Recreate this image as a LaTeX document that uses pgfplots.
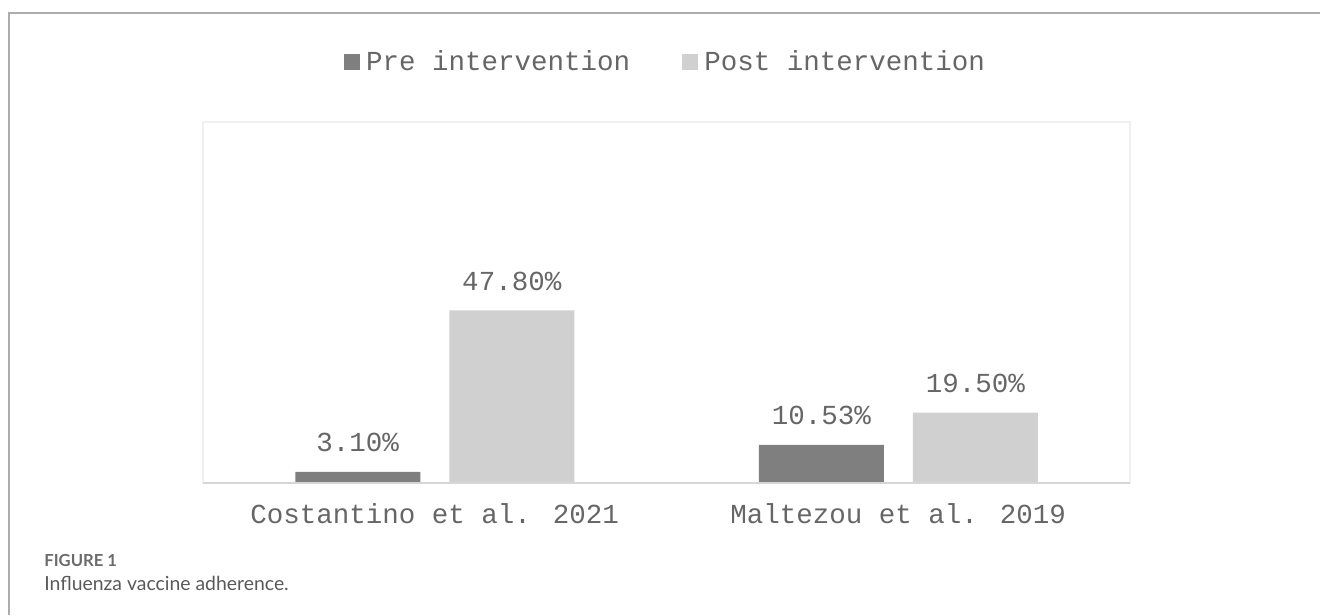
\documentclass[border=0pt]{standalone}
\usepackage{pgfplots}
\pgfplotsset{compat=1.18}
\usepackage{fontspec}
\setmainfont{Liberation Mono}
\newfontfamily\lato{Lato}
\definecolor{pre}{HTML}{7F7F7F}
\definecolor{post}{HTML}{D0D0D0}
\definecolor{txt}{HTML}{666666}
\begin{document}
\begin{tikzpicture}
\path[use as bounding box] (0,0) rectangle (660pt,307.5pt);
\draw[color=black!32, line width=0.6pt] (660pt,301pt) -- (4.5pt,301pt) -- (4.5pt,0pt);
\begin{axis}[
  at={(101.5pt,66pt)}, anchor=south west,
  scale only axis, width=463.5pt, height=180.5pt,
  ybar=14.5pt, bar width=62.5pt,
  xmin=-0.5, xmax=1.5, ymin=0, ymax=100,
  enlargelimits=false,
  xtick={0,1}, xticklabels={Costantino et al. 2021, Maltezou et al. 2019},
  ytick=\empty, major tick length=0pt,
  axis line style={draw=black!6, line width=0.8pt},
  xticklabel style={anchor=base, yshift=-20pt, font=\fontsize{13.75}{16}\selectfont, text=txt},
  nodes near coords={\pgfmathprintnumber[fixed,fixed zerofill,precision=2]{\pgfplotspointmeta}\%},
  nodes near coords style={anchor=base, inner sep=0pt, yshift=10pt, font=\fontsize{13.75}{16}\selectfont, text=txt, /pgf/number format/assume math mode=true},
  point meta=y,
  legend style={at={(axis description cs:0.5,1.166)}, anchor=center, draw=none, fill=none,
    legend columns=2, font=\fontsize{13.75}{16}\selectfont, text=txt,
    /tikz/every even column/.append style={column sep=24pt},
    legend cell align=left},
  legend image code/.code={\fill[#1] (0pt,-4pt) rectangle (8pt,4pt); \path (9pt,0pt);},
]
\addplot[fill=pre, draw=none] coordinates {(0,3.10) (1,10.53)};
\addplot[fill=post, draw=none] coordinates {(0,47.80) (1,19.50)};
\legend{Pre intervention, Post intervention}
\draw[black!16, line width=0.6pt] (axis description cs:0,0) -- (axis description cs:1,0);
\end{axis}
\node[anchor=base west, inner sep=0pt, text=black!58] at (22pt,24.5pt) {\lato\bfseries\fontsize{8.3}{9}\selectfont FIGURE 1};
\node[anchor=base west, inner sep=0pt, text=black!65] at (22pt,12.5pt) {\lato\fontsize{9.7}{11}\selectfont Influenza vaccine adherence.};
\end{tikzpicture}
\end{document}
